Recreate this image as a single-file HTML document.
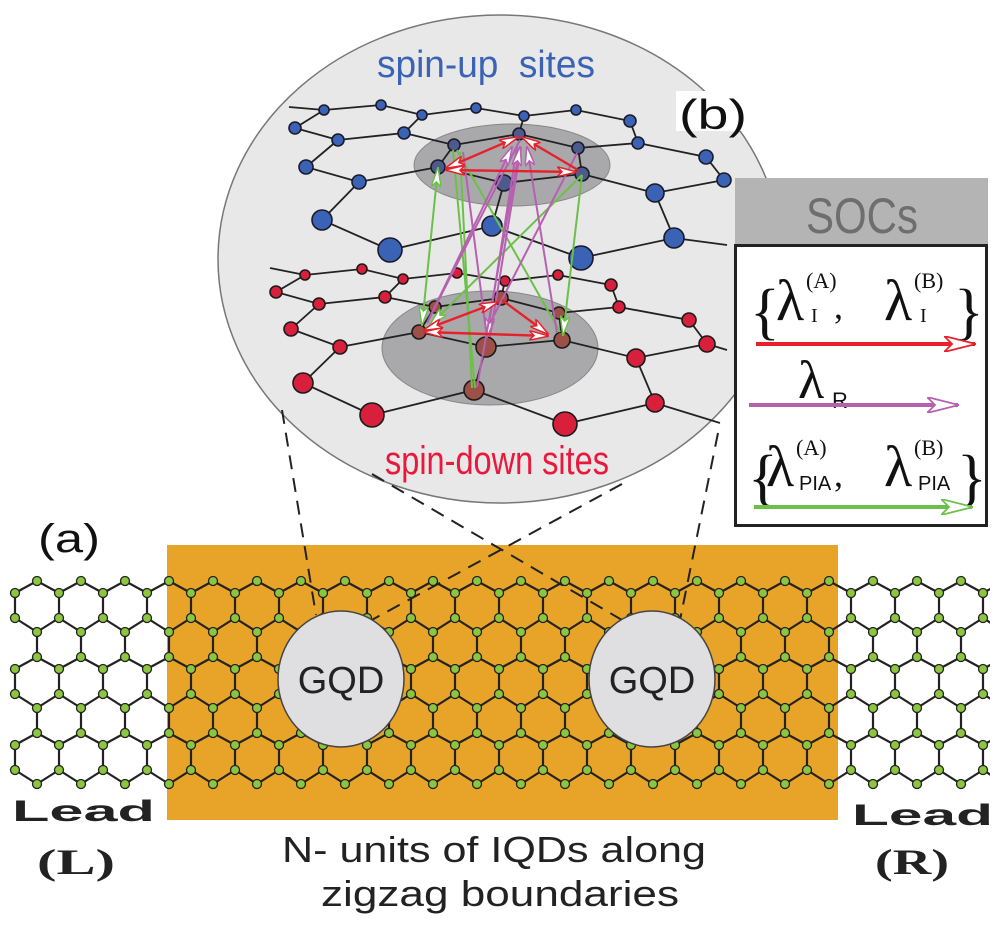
<!DOCTYPE html>
<html><head><meta charset="utf-8"><style>
html,body{margin:0;padding:0;background:#fff;}
svg{display:block;}
</style></head><body>
<svg width="1003" height="926" viewBox="0 0 1003 926" xmlns="http://www.w3.org/2000/svg">
<defs>
<marker id="mr" viewBox="0 0 20 10" refX="19" refY="5" markerWidth="20" markerHeight="10" markerUnits="userSpaceOnUse" orient="auto-start-reverse"><path d="M0,0 L20,5 L0,10 L5,5 Z" fill="#fff" stroke="#e8202a" stroke-width="1.5"/></marker>
<marker id="mp" viewBox="0 0 20 10" refX="19" refY="5" markerWidth="20" markerHeight="10" markerUnits="userSpaceOnUse" orient="auto-start-reverse"><path d="M0,0 L20,5 L0,10 L5,5 Z" fill="#fff" stroke="#b660b0" stroke-width="1.5"/></marker>
<marker id="mg" viewBox="0 0 20 10" refX="19" refY="5" markerWidth="20" markerHeight="10" markerUnits="userSpaceOnUse" orient="auto-start-reverse"><path d="M0,0 L20,5 L0,10 L5,5 Z" fill="#fff" stroke="#6cc04a" stroke-width="1.5"/></marker>
<marker id="Mr" viewBox="0 0 32 16" refX="31" refY="8" markerWidth="32" markerHeight="16" markerUnits="userSpaceOnUse" orient="auto"><path d="M0,0 L32,8 L0,16 L8,8 Z" fill="#fff" stroke="#e8202a" stroke-width="1.8"/></marker>
<marker id="Mp" viewBox="0 0 32 16" refX="31" refY="8" markerWidth="32" markerHeight="16" markerUnits="userSpaceOnUse" orient="auto"><path d="M0,0 L32,8 L0,16 L8,8 Z" fill="#fff" stroke="#b660b0" stroke-width="1.8"/></marker>
<marker id="Mg" viewBox="0 0 32 16" refX="31" refY="8" markerWidth="32" markerHeight="16" markerUnits="userSpaceOnUse" orient="auto"><path d="M0,0 L32,8 L0,16 L8,8 Z" fill="#fff" stroke="#6cc04a" stroke-width="1.8"/></marker>
<g id="col">
 <g stroke="#222" stroke-width="2.2" fill="none">
  <path d="M0,12 L22,0 L44,12 M0,12 V37 M0,37 L22,51 L44,37 M22,51 V76"/>
  <path transform="translate(0,76)" d="M0,12 L22,0 L44,12 M0,12 V37 M0,37 L22,51 L44,37 M22,51 V76"/>
  <path transform="translate(0,152)" d="M0,12 L22,0 L44,12 M0,12 V37 M0,37 L22,51 L44,37"/>
 </g>
 <g fill="#8cc63f" stroke="#222" stroke-width="1.3">
  <circle cx="0" cy="12" r="4.5"/><circle cx="22" cy="0" r="4.5"/><circle cx="0" cy="37" r="4.5"/><circle cx="22" cy="51" r="4.5"/>
  <circle cx="0" cy="88" r="4.5"/><circle cx="22" cy="76" r="4.5"/><circle cx="0" cy="113" r="4.5"/><circle cx="22" cy="127" r="4.5"/>
  <circle cx="0" cy="164" r="4.5"/><circle cx="22" cy="152" r="4.5"/><circle cx="0" cy="189" r="4.5"/><circle cx="22" cy="203" r="4.5"/>
 </g>
</g>
<clipPath id="lc"><rect x="0" y="560" width="990" height="240"/></clipPath>
</defs>

<rect x="167" y="545" width="671" height="275" fill="#e8a428"/>

<g clip-path="url(#lc)">
<g transform="translate(15,581)">
<use href="#col" x="0"/><use href="#col" x="44"/><use href="#col" x="88"/><use href="#col" x="132"/><use href="#col" x="176"/><use href="#col" x="220"/><use href="#col" x="264"/><use href="#col" x="308"/><use href="#col" x="352"/><use href="#col" x="396"/><use href="#col" x="440"/><use href="#col" x="484"/><use href="#col" x="528"/><use href="#col" x="572"/><use href="#col" x="616"/><use href="#col" x="660"/><use href="#col" x="704"/><use href="#col" x="748"/><use href="#col" x="792"/><use href="#col" x="836"/><use href="#col" x="880"/><use href="#col" x="924"/><use href="#col" x="968"/>
</g>
</g>

<ellipse cx="500" cy="259" rx="282" ry="244" fill="#e8e8e8" stroke="#777" stroke-width="1.5"/>

<g stroke="#222" stroke-width="2" stroke-dasharray="14,9" fill="none">
<line x1="282" y1="410" x2="316" y2="615"/>
<line x1="718" y1="433" x2="680" y2="620"/>
<line x1="372" y1="474" x2="622" y2="620"/>
<line x1="622" y1="484" x2="368" y2="622"/>
</g>

<ellipse cx="341" cy="679" rx="63" ry="68" fill="#dfdee0" stroke="#444" stroke-width="1.5"/>
<ellipse cx="652" cy="679" rx="63" ry="68" fill="#dfdee0" stroke="#444" stroke-width="1.5"/>
<text x="341" y="693" font-family="Liberation Sans, sans-serif" font-size="38" text-anchor="middle" fill="#222">GQD</text>
<text x="652" y="693" font-family="Liberation Sans, sans-serif" font-size="38" text-anchor="middle" fill="#222">GQD</text>

<ellipse cx="512" cy="165" rx="98" ry="41" fill="#a9a9ac" stroke="#888" stroke-width="1"/>
<ellipse cx="490" cy="348" rx="108" ry="57" fill="#a9a9ac" stroke="#888" stroke-width="1"/>

<g stroke="#222" stroke-width="1.8" fill="none">
<polyline points="289,107 324,110 381,105 422,115 476,108 524,116 576,110 630,121 638,143 706,157 724,180"/>
<polyline points="324,110 295,128 338,140 404,133 422,115"/>
<polyline points="404,133 454,145 519,134 578,148 638,143"/>
<line x1="519" y1="134" x2="524" y2="116"/>
<line x1="578" y1="148" x2="582" y2="174"/>
<line x1="454" y1="145" x2="438" y2="167"/>
<polyline points="338,140 306,167 359,182 438,167 504,183 582,174 655,193 724,180"/>
<line x1="504" y1="183" x2="492" y2="226"/>
<polyline points="359,182 322,220 390,250 492,226 581,258 674,238 655,193"/>
<line x1="674" y1="238" x2="727" y2="245"/>
<polyline points="270,268 305,275 362,269 403,279 457,273 505,281 558,275 611,285 619,307 689,320 707,344 727,350"/>
<polyline points="305,275 276,292 319,304 385,297 403,279"/>
<polyline points="385,297 435,307 501,298 559,313 619,307"/>
<line x1="501" y1="298" x2="505" y2="281"/>
<line x1="559" y1="313" x2="562" y2="340"/>
<line x1="435" y1="307" x2="419" y2="332"/>
<polyline points="319,304 291,329 340,347 419,332 486,347 562,340 636,358 707,344"/>
<line x1="486" y1="347" x2="474" y2="390"/>
<polyline points="340,347 303,383 372,415 474,390 565,424 655,403 636,358"/>
<line x1="655" y1="403" x2="720" y2="423"/>
</g>

<g fill="#3b63b5" stroke="#1a1a2a" stroke-width="1.6">
<circle cx="324" cy="110" r="5"/><circle cx="381" cy="105" r="5"/><circle cx="422" cy="115" r="5"/><circle cx="476" cy="108" r="5"/><circle cx="524" cy="116" r="5"/><circle cx="576" cy="110" r="5"/><circle cx="630" cy="121" r="6"/>
<circle cx="295" cy="128" r="6"/><circle cx="338" cy="140" r="6"/><circle cx="404" cy="133" r="6"/><circle cx="638" cy="143" r="6"/><circle cx="706" cy="157" r="7"/><circle cx="724" cy="180" r="7"/>
<circle cx="306" cy="167" r="7"/><circle cx="359" cy="182" r="7"/><circle cx="655" cy="193" r="9"/>
<circle cx="322" cy="220" r="10"/><circle cx="492" cy="226" r="10"/><circle cx="674" cy="238" r="10"/>
<circle cx="390" cy="250" r="12"/><circle cx="581" cy="258" r="12"/>
</g>
<g fill="#4d5a8c" stroke="#1a1a2a" stroke-width="1.6">
<circle cx="454" cy="145" r="6"/><circle cx="519" cy="134" r="6"/><circle cx="578" cy="148" r="6"/><circle cx="438" cy="167" r="7"/><circle cx="582" cy="174" r="7"/><circle cx="504" cy="183" r="8"/>
</g>
<g fill="#d81f3c" stroke="#1a1a1a" stroke-width="1.6">
<circle cx="305" cy="275" r="5"/><circle cx="362" cy="269" r="5"/><circle cx="403" cy="279" r="5"/><circle cx="457" cy="273" r="5"/><circle cx="505" cy="281" r="5"/><circle cx="558" cy="275" r="5"/><circle cx="611" cy="285" r="6"/>
<circle cx="276" cy="292" r="6"/><circle cx="319" cy="304" r="6"/><circle cx="385" cy="297" r="6"/><circle cx="619" cy="307" r="6"/><circle cx="689" cy="320" r="7"/><circle cx="707" cy="344" r="8"/>
<circle cx="291" cy="329" r="7"/><circle cx="340" cy="347" r="7"/><circle cx="636" cy="358" r="9"/>
<circle cx="303" cy="383" r="10"/><circle cx="655" cy="403" r="9"/>
<circle cx="372" cy="415" r="12"/><circle cx="565" cy="424" r="12"/>
</g>
<g fill="#9c5046" stroke="#1a1a1a" stroke-width="1.6">
<circle cx="435" cy="307" r="6"/><circle cx="501" cy="298" r="7"/><circle cx="559" cy="313" r="6"/><circle cx="419" cy="332" r="7"/><circle cx="562" cy="340" r="8"/><circle cx="486" cy="347" r="10"/><circle cx="474" cy="390" r="10"/>
</g>

<g fill="none" stroke-width="2">
<g stroke="#6cc04a">
<line x1="438" y1="168" x2="422" y2="325" marker-start="url(#mg)" marker-end="url(#mg)"/>
<line x1="453" y1="150" x2="475" y2="388"/>
<line x1="460" y1="152" x2="472" y2="388"/>
<line x1="582" y1="175" x2="563" y2="335" marker-end="url(#mg)"/>
<line x1="582" y1="175" x2="430" y2="325" marker-end="url(#mg)"/>
<line x1="457" y1="150" x2="560" y2="332"/>
</g>
<g stroke="#b660b0">
<line x1="520" y1="140" x2="427" y2="323"/>
<line x1="517" y1="147" x2="487" y2="337" marker-end="url(#mp)"/>
<line x1="521" y1="147" x2="490" y2="337"/>
<line x1="463" y1="152" x2="487" y2="338"/>
<line x1="577" y1="153" x2="490" y2="323"/>
<line x1="557" y1="333" x2="527" y2="147" marker-end="url(#mp)"/>
<line x1="477" y1="387" x2="520" y2="147" marker-end="url(#mp)"/>
<line x1="427" y1="323" x2="512" y2="147" marker-end="url(#mp)"/>
</g>
<g stroke="#e8202a" stroke-width="2.4">
<line x1="446" y1="168" x2="518" y2="137" marker-start="url(#mr)" marker-end="url(#mr)"/>
<line x1="446" y1="170" x2="576" y2="172" marker-start="url(#mr)" marker-end="url(#mr)"/>
<line x1="522" y1="137" x2="578" y2="170" marker-start="url(#mr)"/>
<line x1="424" y1="330" x2="498" y2="302" marker-start="url(#mr)" marker-end="url(#mr)"/>
<line x1="424" y1="332" x2="548" y2="336" marker-start="url(#mr)" marker-end="url(#mr)"/>
<line x1="502" y1="300" x2="548" y2="334" marker-end="url(#mr)"/>
</g>
</g>

<text x="377" y="77" font-family="Liberation Sans, sans-serif" font-size="38" fill="#3b63b5" textLength="218" lengthAdjust="spacingAndGlyphs" xml:space="preserve">spin-up  sites</text>
<text x="385" y="474" font-family="Liberation Sans, sans-serif" font-size="40" fill="#e8193c" textLength="224" lengthAdjust="spacingAndGlyphs">spin-down sites</text>

<rect x="676" y="91" width="74" height="40" fill="#fff"/>
<text x="679" y="129" font-family="Liberation Sans, sans-serif" font-size="42" fill="#111" textLength="68" lengthAdjust="spacingAndGlyphs">(b)</text>

<rect x="735" y="178" width="253" height="66" fill="#b4b4b4"/>
<text x="862" y="233" font-family="Liberation Sans, sans-serif" font-size="50" fill="#6e6e6e" text-anchor="middle" textLength="112" lengthAdjust="spacingAndGlyphs">SOCs</text>
<rect x="735.5" y="245.5" width="251" height="280" fill="#fff" stroke="#222" stroke-width="3"/>
<g font-family="Liberation Serif, serif" fill="#111">
<text x="750" y="332" font-size="62">{</text>
<text x="776" y="320" font-size="58">λ</text>
<text x="806" y="288" font-size="22">(A)</text>
<text x="811" y="322" font-size="20">I</text>
<text x="834" y="318" font-size="36">,</text>
<text x="884" y="320" font-size="58">λ</text>
<text x="914" y="288" font-size="22">(B)</text>
<text x="920" y="322" font-size="20">I</text>
<text x="954" y="332" font-size="62">}</text>
<text x="798" y="398" font-size="54">λ</text>
<text x="832" y="408" font-size="22" font-family="Liberation Sans, sans-serif">R</text>
<text x="748" y="498" font-size="62">{</text>
<text x="766" y="486" font-size="58">λ</text>
<text x="796" y="455" font-size="22">(A)</text>
<text x="799" y="490" font-size="20" font-family="Liberation Sans, sans-serif">PIA</text>
<text x="834" y="486" font-size="36">,</text>
<text x="884" y="486" font-size="58">λ</text>
<text x="914" y="455" font-size="22">(B)</text>
<text x="918" y="490" font-size="20" font-family="Liberation Sans, sans-serif">PIA</text>
<text x="957" y="498" font-size="62">}</text>
</g>
<line x1="756" y1="344" x2="975" y2="344" stroke="#e8202a" stroke-width="4" marker-end="url(#Mr)"/>
<line x1="749" y1="405" x2="958" y2="405" stroke="#b660b0" stroke-width="4" marker-end="url(#Mp)"/>
<line x1="754" y1="507" x2="972" y2="507" stroke="#6cc04a" stroke-width="4" marker-end="url(#Mg)"/>

<text x="38" y="552" font-family="Liberation Sans, sans-serif" font-size="40" fill="#111" textLength="62" lengthAdjust="spacingAndGlyphs">(a)</text>

<text x="12" y="821" font-family="Liberation Sans, sans-serif" font-weight="bold" font-size="30" fill="#222" textLength="143" lengthAdjust="spacingAndGlyphs">Lead</text>
<text x="37" y="874" font-family="Liberation Serif, serif" font-weight="bold" font-size="36" fill="#222" textLength="78" lengthAdjust="spacingAndGlyphs">(L)</text>
<text x="852" y="825" font-family="Liberation Sans, sans-serif" font-weight="bold" font-size="30" fill="#222" textLength="141" lengthAdjust="spacingAndGlyphs">Lead</text>
<text x="875" y="874" font-family="Liberation Serif, serif" font-weight="bold" font-size="36" fill="#222" textLength="74" lengthAdjust="spacingAndGlyphs">(R)</text>

<text x="494" y="862" font-family="Liberation Sans, sans-serif" font-size="36" fill="#222" text-anchor="middle" textLength="424" lengthAdjust="spacingAndGlyphs">N- units of IQDs along</text>
<text x="500" y="906" font-family="Liberation Sans, sans-serif" font-size="36" fill="#222" text-anchor="middle" textLength="358" lengthAdjust="spacingAndGlyphs">zigzag boundaries</text>
</svg>
</body></html>
